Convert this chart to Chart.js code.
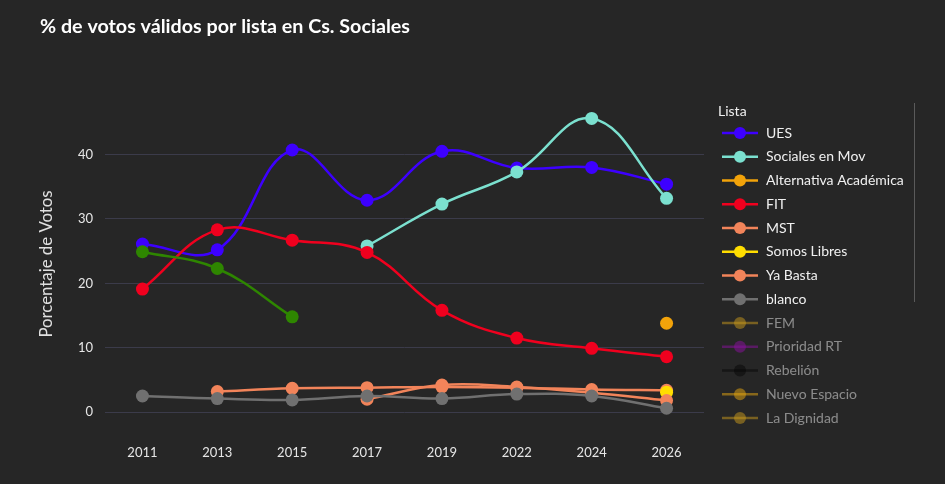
<!DOCTYPE html>
<html>
<head>
<meta charset="utf-8">
<script src="https://cdn.jsdelivr.net/npm/chart.js@4.4.1/dist/chart.umd.min.js"></script>
<style>
  html, body { margin: 0; padding: 0; background: #262626; }
  canvas { display: block; }
</style>
</head>
<body>
<canvas id="chart" width="945" height="484"></canvas>
<script>
const FONT = "Lato, 'Noto Sans', sans-serif";

const years = ["2011", "2013", "2015", "2017", "2019", "2022", "2024", "2026"];
const yTicks = [0, 10, 20, 30, 40];

const ues = [26.1, 25.2, 40.7, 32.9, 40.5, 37.9, 38.0, 35.4];
const socialesMov = [null, null, null, 25.8, 32.3, 37.3, 45.6, 33.2];
const altAcademica = [null, null, null, null, null, null, null, 13.8];
const fit = [19.1, 28.3, 26.7, 24.8, 15.8, 11.5, 9.9, 8.6];
const mst = [null, 3.2, 3.7, 3.8, 3.9, 3.8, 3.5, 3.4];
const somosLibres = [null, null, null, null, null, null, null, 3.1];
const yaBasta = [null, null, null, 2.0, 4.2, 3.9, 3.0, 1.8];
const blanco = [2.5, 2.1, 1.9, 2.5, 2.1, 2.8, 2.5, 0.6];
const sinDato = [null, null, null, null, null, null, null, null];
const otraLista = [24.9, 22.3, 14.8, null, null, null, null, null];

// name, values, colour, hidden (legend only), shown in legend
const series = [
  ["UES", ues, "#3d00ff", false, true],
  ["Sociales en Mov", socialesMov, "#7be0cf", false, true],
  ["Alternativa Académica", altAcademica, "#f2a30a", false, true],
  ["FIT", fit, "#f0001e", false, true],
  ["MST", mst, "#f2845a", false, true],
  ["Somos Libres", somosLibres, "#ffdd00", false, true],
  ["Ya Basta", yaBasta, "#f2845a", false, true],
  ["blanco", blanco, "#707070", false, true],
  ["FEM", sinDato, "#c99a1c", true, true],
  ["Prioridad RT", sinDato, "#8c10a0", true, true],
  ["Rebelión", sinDato, "#050505", true, true],
  ["Nuevo Espacio", sinDato, "#e8a810", true, true],
  ["La Dignidad", sinDato, "#c99a1c", true, true],
  ["Otra lista", otraLista, "#2e8600", false, false]
];

const datasets = series.map(([name, values, color, hidden, inLegend], i) => ({
  label: name,
  data: values,
  borderColor: color,
  backgroundColor: color,
  pointBackgroundColor: color,
  pointBorderWidth: 0,
  pointRadius: 6.5,
  pointHoverRadius: 6.5,
  borderWidth: 2.5,
  tension: 0.4,
  hidden: hidden,
  inLegend: inLegend,
  order: -i
}));

const decor = {
  id: "decor",
  beforeDraw(chart) {
    const ctx = chart.ctx;
    ctx.save();
    ctx.fillStyle = "#262626";
    ctx.fillRect(0, 0, chart.width, chart.height);
    ctx.fillStyle = "#ffffff";
    ctx.font = "bold 19.7px " + FONT;
    ctx.textBaseline = "middle";
    ctx.textAlign = "left";
    ctx.fillText("% de votos válidos por lista en Cs. Sociales", 40, 27);
    ctx.restore();
  },
  afterDraw(chart) {
    const ctx = chart.ctx;
    ctx.save();
    ctx.textBaseline = "middle";
    ctx.textAlign = "left";
    ctx.fillStyle = "#f0f0f0";
    ctx.font = "14px " + FONT;
    ctx.fillText("Lista", 718, 111);
    let y = 133;
    chart.data.datasets.forEach(ds => {
      if (!ds.inLegend) return;
      ctx.globalAlpha = ds.hidden ? 0.5 : 1;
      ctx.strokeStyle = ds.borderColor;
      ctx.lineWidth = 2.5;
      ctx.beginPath();
      ctx.moveTo(722, y);
      ctx.lineTo(758, y);
      ctx.stroke();
      ctx.fillStyle = ds.borderColor;
      ctx.beginPath();
      ctx.arc(740, y, 6, 0, Math.PI * 2);
      ctx.fill();
      ctx.fillStyle = "#f0f0f0";
      ctx.fillText(ds.label, 766, y);
      y += 23.75;
    });
    ctx.globalAlpha = 1;
    ctx.strokeStyle = "#5a5a5a";
    ctx.lineWidth = 1;
    ctx.beginPath();
    ctx.moveTo(914.5, 103);
    ctx.lineTo(914.5, 302);
    ctx.stroke();
    ctx.restore();
  }
};

new Chart(document.getElementById("chart"), {
  type: "line",
  data: { labels: years, datasets: datasets },
  plugins: [decor],
  options: {
    responsive: false,
    animation: false,
    layout: { padding: { top: 103, right: 241, left: 0, bottom: 0 } },
    plugins: {
      legend: { display: false },
      tooltip: { enabled: false }
    },
    scales: {
      x: {
        offset: true,
        grid: { display: false, drawTicks: false },
        border: { display: false },
        ticks: { color: "#e6e6e6", font: { family: FONT, size: 13 }, padding: 20 },
        afterFit(scale) { scale.height = 59; }
      },
      y: {
        min: -2,
        max: 48,
        grid: { color: "#3b3b4a", lineWidth: 1, drawTicks: false },
        border: { display: false },
        ticks: { color: "#e6e6e6", font: { family: FONT, size: 13 }, padding: 12 },
        title: {
          display: true,
          text: "Porcentaje de Votos",
          color: "#e0e0e0",
          font: { family: FONT, size: 16.8 },
          padding: { top: 37, bottom: 0 }
        },
        afterBuildTicks(scale) { scale.ticks = yTicks.map(v => ({ value: v })); },
        afterFit(scale) { scale.width = 105; }
      }
    }
  }
});
</script>
</body>
</html>
